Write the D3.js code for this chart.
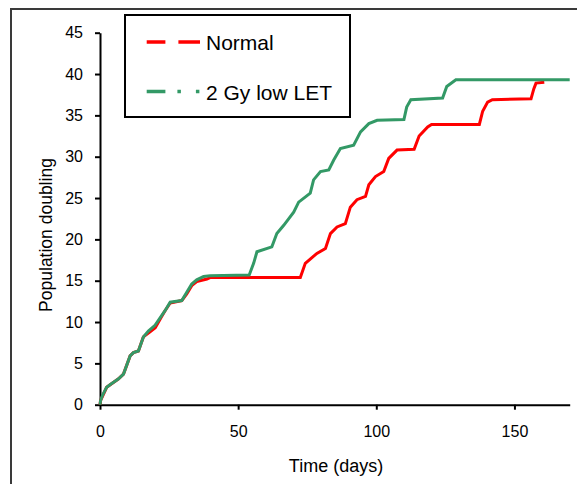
<html>
<head>
<script src="https://d3js.org/d3.v7.min.js"></script>
<style>
  body { margin: 0; background: #fff; }
  text { font-family: "Liberation Sans", Arial, sans-serif; fill: #000; }
</style>
</head>
<body>
<div id="chart"></div>
<script>
// data (days, population doublings)
var normalDays = [0, 0.2, 2.4, 6.6, 8.5, 10.9, 12.1, 13.9, 15.7, 18, 20, 22, 23.6, 25.4, 29.6, 31.4, 33.2, 35, 38.7, 40,
  72.5, 74.3, 78.5, 81.6, 83.4, 85.8, 88.8, 90.6, 93, 96.1, 97.3, 99.7, 102.7, 104.5, 107.5, 113.7, 115.5, 118.6, 120,
  137.3, 138.5, 140.3, 142, 156, 157, 157.8, 160.8];
var normalDoublings = [0, 0.5, 2.1, 3.1, 3.7, 5.9, 6.3, 6.5, 8.2, 8.8, 9.3, 10.5, 11.4, 12.3, 12.6, 13.4, 14.4, 14.9, 15.2, 15.4,
  15.4, 17.1, 18.3, 18.9, 20.7, 21.5, 21.9, 23.9, 24.8, 25.2, 26.6, 27.6, 28.2, 29.8, 30.8, 30.9, 32.5, 33.6, 33.9,
  33.9, 35.5, 36.6, 36.9, 37.0, 38.2, 38.9, 39.0];

var lowLetDays = [0, 0.2, 1, 2.4, 4, 6.6, 8.5, 10.9, 12.1, 13.9, 15.7, 17.5, 19.9, 23.6, 25.4, 29.6, 31.4, 33.2, 35, 37.5, 39.9,
  54, 55.6, 56.8, 62.2, 64, 66.5, 70.1, 71.9, 76.1, 77.3, 79.8, 82.8, 84.6, 87, 91.8, 94.3, 97.3, 100.3,
  110, 111, 112.5, 124, 125.5, 128.8, 170];
var lowLetDoublings = [0, 0.5, 1.2, 2.1, 2.5, 3.1, 3.7, 5.9, 6.3, 6.5, 8.2, 8.9, 9.6, 11.4, 12.4, 12.6, 13.6, 14.6, 15.1, 15.5, 15.6,
  15.7, 17.1, 18.5, 19.1, 20.7, 21.7, 23.3, 24.5, 25.6, 27.2, 28.2, 28.4, 29.6, 31.0, 31.4, 33.0, 34.0, 34.4,
  34.5, 36.0, 36.9, 37.1, 38.5, 39.3, 39.3];

var seriesNames = ["Normal", "2 Gy low LET"];
var xTicks = [0, 50, 100, 150];
var yTicks = [0, 5, 10, 15, 20, 25, 30, 35, 40, 45];

var width = 577, height = 484;
var svg = d3.select("#chart").append("svg")
  .attr("width", width).attr("height", height);

// outer frame (runs off the right and bottom edge)
svg.append("rect")
  .attr("x", 11).attr("y", 9)
  .attr("width", 620).attr("height", 520)
  .attr("fill", "none").attr("stroke", "#3a3a3a").attr("stroke-width", 2);

var x = d3.scaleLinear().domain([0, 170]).range([100, 569.7]);
var y = d3.scaleLinear().domain([0, 45]).range([404.7, 32.7]);

// axes
var yAxis = svg.append("g")
  .attr("transform", "translate(100,0)")
  .call(d3.axisLeft(y).tickValues(yTicks).tickSize(5).tickSizeOuter(0).tickPadding(12));
var xAxis = svg.append("g")
  .attr("transform", "translate(0," + y(0) + ")")
  .call(d3.axisBottom(x).tickValues(xTicks).tickSize(5).tickSizeOuter(0).tickPadding(16));

[xAxis, yAxis].forEach(function(a) {
  a.select(".domain").attr("stroke", "#000").attr("stroke-width", 2);
  a.selectAll(".tick line").attr("stroke", "#000").attr("stroke-width", 2);
  a.selectAll(".tick text").style("font-size", "16px").style("font-family", "'Liberation Sans', Arial, sans-serif");
});

// axis titles
svg.append("text")
  .attr("x", 336).attr("y", 471.5)
  .attr("text-anchor", "middle")
  .style("font-size", "18px")
  .text("Time (days)");
svg.append("text")
  .attr("transform", "translate(52,235) rotate(-90)")
  .attr("text-anchor", "middle")
  .style("font-size", "17.5px")
  .text("Population doubling");

// curves
var line = d3.line()
  .x(function(d) { return x(d[0]); })
  .y(function(d) { return y(d[1]); });

var normalData = d3.zip(normalDays, normalDoublings);
var lowLetData = d3.zip(lowLetDays, lowLetDoublings);

svg.append("path").datum(normalData)
  .attr("d", line)
  .attr("fill", "none").attr("stroke", "#ff0000").attr("stroke-width", 3);
svg.append("path").datum(lowLetData)
  .attr("d", line)
  .attr("fill", "none").attr("stroke", "#339966").attr("stroke-width", 3);

// legend
var legend = svg.append("g");
legend.append("rect")
  .attr("x", 125).attr("y", 15)
  .attr("width", 225).attr("height", 102)
  .attr("fill", "#fff").attr("stroke", "#000").attr("stroke-width", 2);

var legendColors = ["#ff0000", "#339966"];
var legendDash = ["18.7,13,22", "18.7,12,3.5,15,3.5"];
var legendY = [42, 91.5];

seriesNames.forEach(function(name, i) {
  legend.append("line")
    .attr("x1", 146.7).attr("x2", 200)
    .attr("y1", legendY[i]).attr("y2", legendY[i])
    .attr("stroke", legendColors[i]).attr("stroke-width", 3.5)
    .attr("stroke-dasharray", legendDash[i]);
  legend.append("text")
    .attr("x", 206).attr("y", legendY[i] + 8)
    .style("font-size", "21px")
    .text(name);
});
</script>
</body>
</html>
